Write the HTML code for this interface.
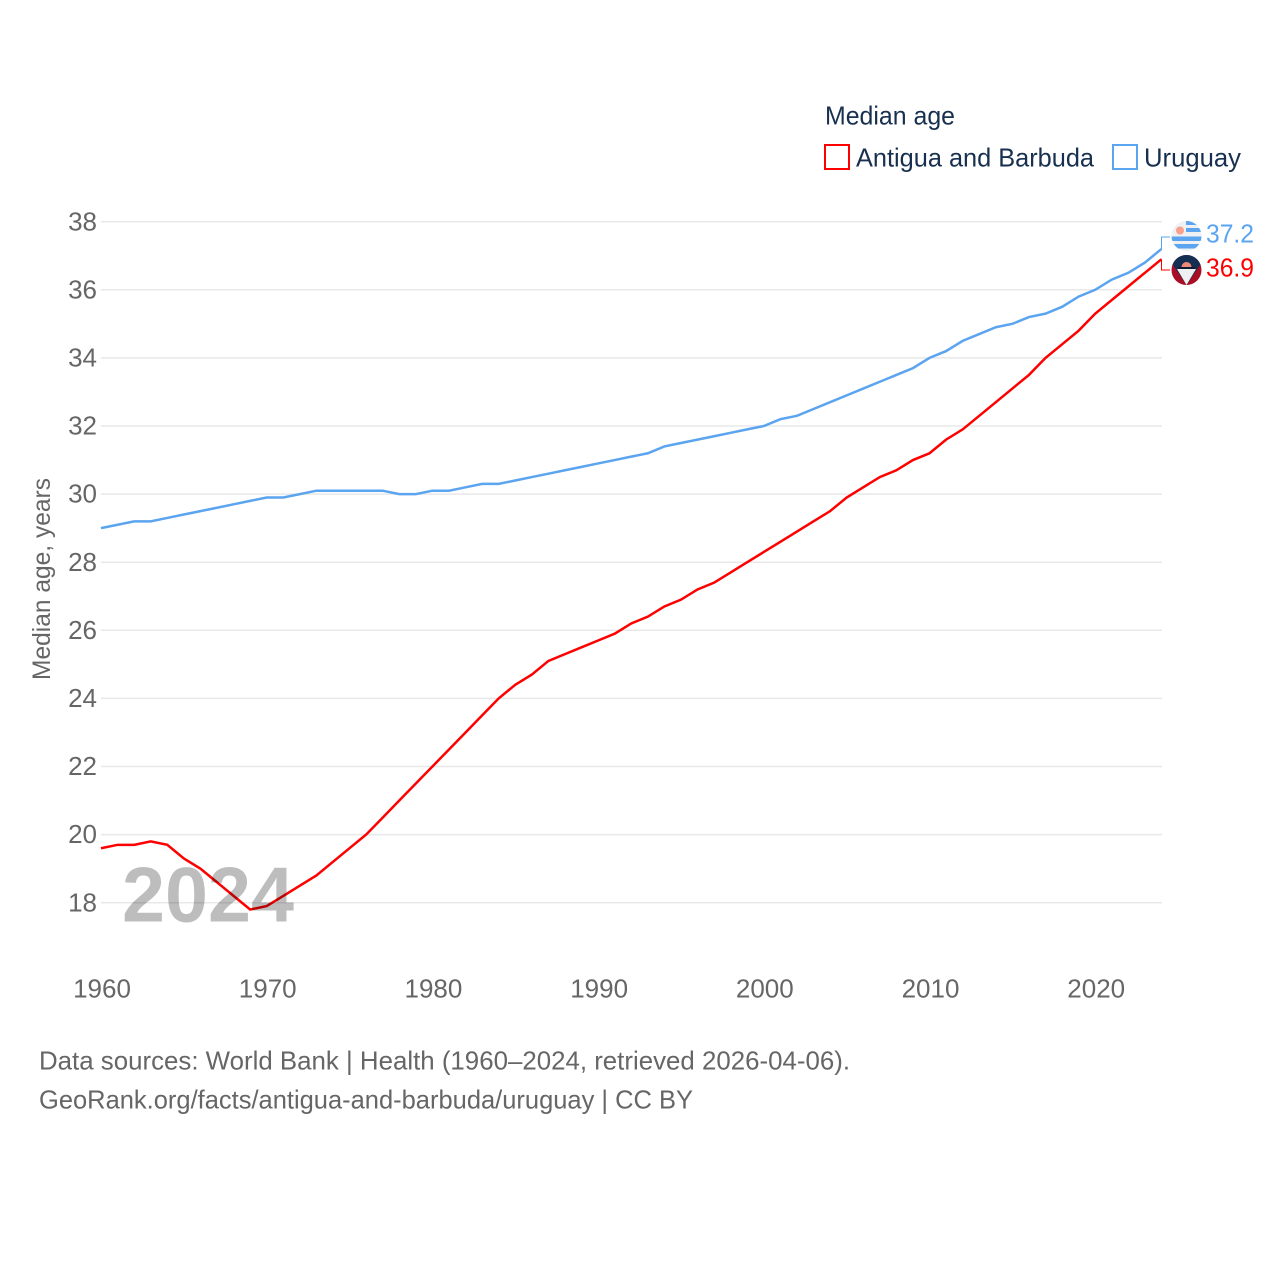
<!DOCTYPE html>
<html lang="en">
<head>
<meta charset="utf-8">
<title>Median age: Antigua and Barbuda vs Uruguay</title>
<style>
html,body{margin:0;padding:0;background:#fff;}
svg{display:block;font-family:"Liberation Sans",sans-serif;}
</style>
</head>
<body>
<svg id="chart" xmlns="http://www.w3.org/2000/svg" width="1280" height="1280" viewBox="0 0 1280 1280">
  <defs>
    <clipPath id="clip-uy"><circle cx="1186.5" cy="236" r="15"/></clipPath>
    <clipPath id="clip-ag"><circle cx="1186.5" cy="270" r="15"/></clipPath>
  </defs>
  <rect x="0" y="0" width="1280" height="1280" fill="#fff"/>

  <g id="grid"></g>
  <g id="yticks"></g>
  <g id="xticks"></g>

  <text transform="translate(50,680) rotate(-90)" font-size="25" fill="#666" textLength="202" lengthAdjust="spacingAndGlyphs">Median age, years</text>

  <g>
    <text x="825" y="124.5" font-size="26" fill="#18304f" textLength="130" lengthAdjust="spacingAndGlyphs">Median age</text>
    <g>
      <rect x="825" y="145" width="24" height="24" fill="#fff" stroke="#ff0000" stroke-width="2"/>
      <text x="856" y="166.5" font-size="26" fill="#18304f" textLength="238" lengthAdjust="spacingAndGlyphs">Antigua and Barbuda</text>
    </g>
    <g>
      <rect x="1113" y="145" width="24" height="24" fill="#fff" stroke="#5ba4f0" stroke-width="2"/>
      <text x="1144" y="166.5" font-size="26" fill="#18304f" textLength="97" lengthAdjust="spacingAndGlyphs">Uruguay</text>
    </g>
  </g>

  <g id="series"></g>

  <text x="122" y="921.5" font-size="78" font-weight="700" fill="#000" fill-opacity="0.26" textLength="172" lengthAdjust="spacingAndGlyphs">2024</text>

  <g clip-path="url(#clip-uy)">
    <rect x="1171" y="220" width="31" height="32" fill="#eef0f2"/>
    <rect x="1186" y="220" width="16" height="5" fill="#5ba4f0"/>
    <rect x="1186" y="228" width="16" height="4" fill="#5ba4f0"/>
    <rect x="1171" y="236.5" width="31" height="4.5" fill="#5ba4f0"/>
    <rect x="1171" y="244" width="31" height="4.5" fill="#5ba4f0"/>
    <circle cx="1180" cy="230.5" r="4" fill="#f9a08a"/>
  </g>
  <g clip-path="url(#clip-ag)">
    <rect x="1171" y="254" width="31" height="32" fill="#a80f25"/>
    <polygon points="1171,254 1202,254 1202,262 1186.5,285 1171,262" fill="#142f52"/>
    <polygon points="1177,269 1196,269 1186.5,285" fill="#eef0f2"/>
    <rect x="1178" y="267" width="17" height="2" fill="#0d1c33"/>
    <path d="M1181.5,267 a5,5 0 0 1 10,0 z" fill="#f08a78"/>
  </g>

  <text x="1206" y="242.5" font-size="26" fill="#5ba4f0" textLength="48" lengthAdjust="spacingAndGlyphs">37.2</text>
  <text x="1206" y="276.5" font-size="26" fill="#ff0000" textLength="48" lengthAdjust="spacingAndGlyphs">36.9</text>

  <text x="39" y="1069.5" font-size="26" fill="#666" textLength="811" lengthAdjust="spacingAndGlyphs">Data sources: World Bank | Health (1960–2024, retrieved 2026-04-06).</text>
  <text x="39" y="1108.5" font-size="26" fill="#666" textLength="654" lengthAdjust="spacingAndGlyphs">GeoRank.org/facts/antigua-and-barbuda/uruguay | CC BY</text>
</svg>
<script>
const yearStart = 1960;
const yTicks = [18, 20, 22, 24, 26, 28, 30, 32, 34, 36, 38];
const xTicks = [1960, 1970, 1980, 1990, 2000, 2010, 2020];
const antiguaValues = [19.6,19.7,19.7,19.8,19.7,19.3,19.0,18.6,18.2,17.8,17.9,18.2,18.5,18.8,19.2,19.6,20.0,20.5,21.0,21.5,22.0,22.5,23.0,23.5,24.0,24.4,24.7,25.1,25.3,25.5,25.7,25.9,26.2,26.4,26.7,26.9,27.2,27.4,27.7,28.0,28.3,28.6,28.9,29.2,29.5,29.9,30.2,30.5,30.7,31.0,31.2,31.6,31.9,32.3,32.7,33.1,33.5,34.0,34.4,34.8,35.3,35.7,36.1,36.5,36.9];
const uruguayValues = [29.0,29.1,29.2,29.2,29.3,29.4,29.5,29.6,29.7,29.8,29.9,29.9,30.0,30.1,30.1,30.1,30.1,30.1,30.0,30.0,30.1,30.1,30.2,30.3,30.3,30.4,30.5,30.6,30.7,30.8,30.9,31.0,31.1,31.2,31.4,31.5,31.6,31.7,31.8,31.9,32.0,32.2,32.3,32.5,32.7,32.9,33.1,33.3,33.5,33.7,34.0,34.2,34.5,34.7,34.9,35.0,35.2,35.3,35.5,35.8,36.0,36.3,36.5,36.8,37.2];

const NS = 'http://www.w3.org/2000/svg';
const xScale = year => 101 + (year - 1960) * (1161.5 - 101) / 64;
const yScale = value => 902.7 - (value - 18) * (902.7 - 221.7) / 20;

const gridGroup = document.getElementById('grid');
const yGroup = document.getElementById('yticks');
const xGroup = document.getElementById('xticks');
const seriesGroup = document.getElementById('series');

yTicks.forEach(function (tick) {
  const line = document.createElementNS(NS, 'line');
  
  
  line.setAttribute('x1', 101);
  line.setAttribute('x2', 1162);
  line.setAttribute('y1', yScale(tick));
  line.setAttribute('y2', yScale(tick));
  line.setAttribute('stroke', '#e8e8e8');
  line.setAttribute('stroke-width', '1.5');
  gridGroup.appendChild(line);

  const label = document.createElementNS(NS, 'text');
  
  
  label.setAttribute('x', 97);
  label.setAttribute('y', yScale(tick) + 8.6);
  label.setAttribute('text-anchor', 'end');
  label.setAttribute('font-size', '26');
  label.setAttribute('fill', '#666');
  label.textContent = tick;
  yGroup.appendChild(label);
});

xTicks.forEach(function (tick) {
  const label = document.createElementNS(NS, 'text');
  
  
  label.setAttribute('x', xScale(tick) + 1);
  label.setAttribute('y', 997.5);
  label.setAttribute('text-anchor', 'middle');
  label.setAttribute('font-size', '26');
  label.setAttribute('fill', '#666');
  label.textContent = tick;
  xGroup.appendChild(label);
});

function linePoints(values) {
  return values.map(function (v, i) {
    return xScale(yearStart + i).toFixed(2) + ',' + yScale(v).toFixed(2);
  }).join(' ');
}

const uruguayLine = document.createElementNS(NS, 'polyline');


uruguayLine.setAttribute('points', linePoints(uruguayValues));
uruguayLine.setAttribute('fill', 'none');
uruguayLine.setAttribute('stroke', '#5ba4f0');
uruguayLine.setAttribute('stroke-width', '2.5');
seriesGroup.appendChild(uruguayLine);

const antiguaLine = document.createElementNS(NS, 'polyline');


antiguaLine.setAttribute('points', linePoints(antiguaValues));
antiguaLine.setAttribute('fill', 'none');
antiguaLine.setAttribute('stroke', '#ff0000');
antiguaLine.setAttribute('stroke-width', '2.5');
seriesGroup.appendChild(antiguaLine);

const uruguayLeader = document.createElementNS(NS, 'polyline');


uruguayLeader.setAttribute('points', '1161.5,' + yScale(uruguayValues[uruguayValues.length - 1]).toFixed(1) + ' 1161.5,237 1170,237');
uruguayLeader.setAttribute('fill', 'none');
uruguayLeader.setAttribute('stroke', '#5ba4f0');
uruguayLeader.setAttribute('stroke-width', '1');
seriesGroup.appendChild(uruguayLeader);

const antiguaLeader = document.createElementNS(NS, 'polyline');


antiguaLeader.setAttribute('points', '1161.5,' + yScale(antiguaValues[antiguaValues.length - 1]).toFixed(1) + ' 1161.5,270 1170,270');
antiguaLeader.setAttribute('fill', 'none');
antiguaLeader.setAttribute('stroke', '#ff0000');
antiguaLeader.setAttribute('stroke-width', '1');
seriesGroup.appendChild(antiguaLeader);
</script>
</body>
</html>
